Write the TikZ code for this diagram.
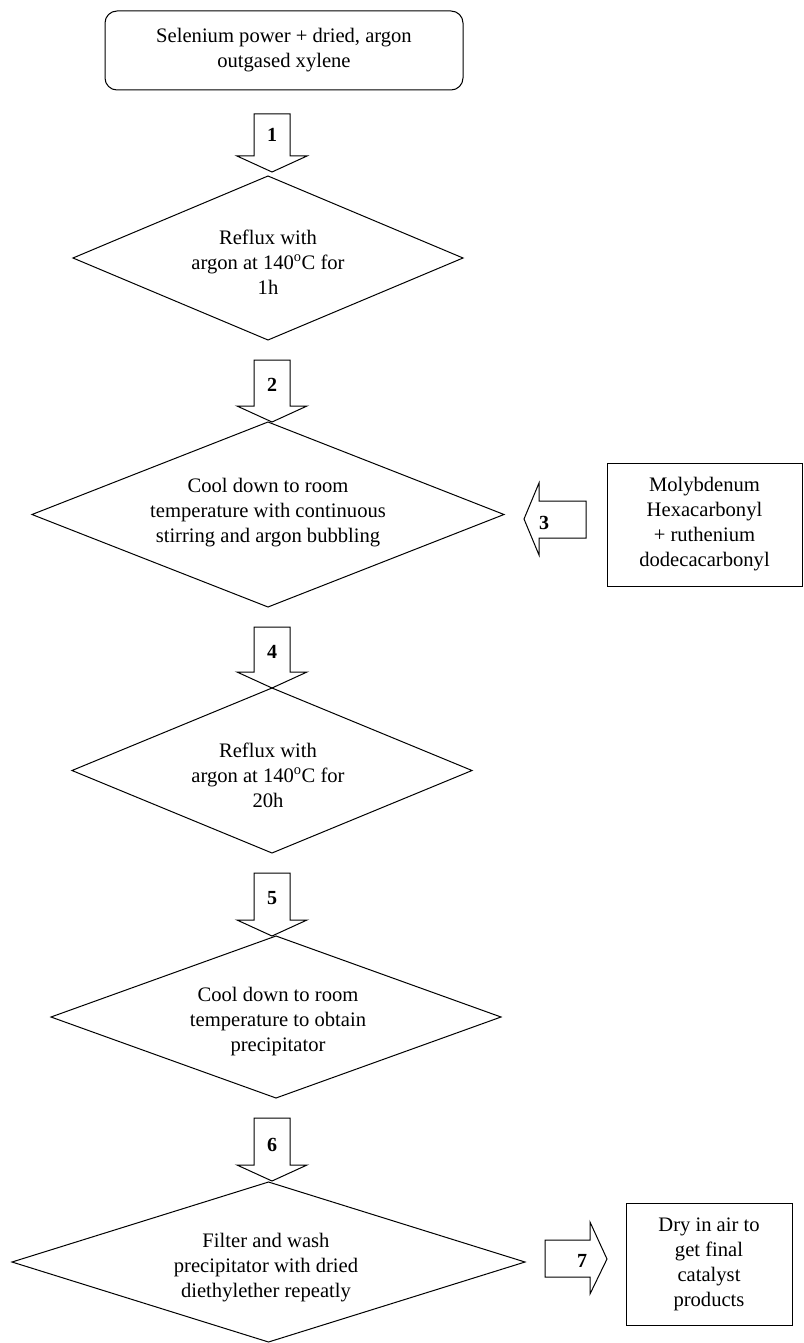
\documentclass[tikz,border=0pt]{standalone}
\usepackage{fontspec}
\setmainfont{Liberation Serif}
\usetikzlibrary{shapes.geometric}
\newcommand{\blkdown}[2]{\draw[blk] (#1) -- ++(-35,-16) -- ++(17,0) -- ++(0,-#2) -- ++(36,0) -- ++(0,#2) -- ++(17,0) -- cycle;}
\begin{document}
\begin{tikzpicture}[x=1pt,y=-1pt,line width=1pt,
  txt/.style={font=\fontsize{20.6}{25}\selectfont, align=center, inner sep=0pt},
  num/.style={font=\fontsize{20}{24}\selectfont\bfseries, inner sep=0pt},
  dia/.style={draw, shape=diamond, inner sep=0pt, outer sep=0pt},
  box/.style={draw, inner sep=0pt, outer sep=0pt, font=\fontsize{20.6}{25}\selectfont, align=center},
  blk/.style={draw, line join=miter}]
\useasboundingbox (0,0) rectangle (803,1343);

% start box
\node[box, rounded corners=12pt, minimum width=358pt, minimum height=79pt] (start) at (284,50.5)
  {Selenium power + dried, argon\\outgased xylene};

% diamonds
\node[dia, minimum width=390pt, minimum height=164pt] (d1) at (268,258) {};
\node[txt] (l1) at (268,262) {Reflux with\\argon at 140\textsuperscript{o}C for\\1h};

\node[dia, minimum width=472pt, minimum height=185pt] (d2) at (268,514.5) {};
\node[txt] (l2) at (268,513) {Cool down to room\\temperature with continuous\\stirring and argon bubbling};

\node[dia, minimum width=400pt, minimum height=165pt] (d3) at (272,770.5) {};
\node[txt] (l3) at (268,775) {Reflux with\\argon at 140\textsuperscript{o}C for\\20h};

\node[dia, minimum width=450pt, minimum height=162pt] (d4) at (276,1017) {};
\node[txt] (l4) at (278,1022) {Cool down to room\\temperature to obtain\\precipitator};

\node[dia, minimum width=513pt, minimum height=160pt] (d5) at (268.5,1262) {};
\node[txt] (l5) at (266,1268) {Filter and wash\\precipitator with dried\\diethylether repeatly};

% side boxes
\node[box, minimum width=195pt, minimum height=123pt] (moly) at (704.5,524.5)
  {Molybdenum\\Hexacarbonyl\\+ ruthenium\\dodecacarbonyl};
\node[box, minimum width=166pt, minimum height=122pt] (dry) at (709,1264)
  {Dry in air to\\get final\\catalyst\\products};

% block arrows
\coordinate (t1) at (272,172);
\coordinate (t2) at (272,422);
\coordinate (t4) at (272,688);
\coordinate (t5) at (272,936);
\coordinate (t6) at (272,1181);
\coordinate (t3) at (524,519);
\coordinate (t7) at (607,1259);

\blkdown{t1}{42}
\blkdown{t2}{46}
\blkdown{t4}{45}
\blkdown{t5}{47}
\blkdown{t6}{47}
\draw[blk] (t3) -- ++(15,-36) -- ++(0,18) -- ++(47,0) -- ++(0,37) -- ++(-47,0) -- ++(0,17) -- cycle;
\draw[blk] (t7) -- ++(-17,-37) -- ++(0,18) -- ++(-45,0) -- ++(0,37) -- ++(45,0) -- ++(0,17) -- cycle;

% numbers
\node[num] (n1) at (272,135) {1};
\node[num] (n2) at (272,385) {2};
\node[num] (n3) at (544,523) {3};
\node[num] (n4) at (272,652) {4};
\node[num] (n5) at (272,898) {5};
\node[num] (n6) at (272,1145) {6};
\node[num] (n7) at (582,1261) {7};
\end{tikzpicture}
\end{document}
